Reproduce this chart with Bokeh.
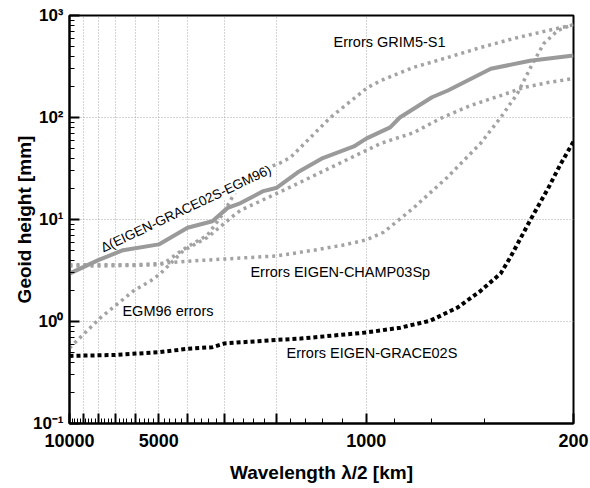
from bokeh.plotting import figure
from bokeh.models import Range1d, FixedTicker, Label
from bokeh.embed import file_html
from bokeh.resources import INLINE

# ---- data (wavelength lambda/2 in km, geoid height in mm) ----
lam_delta = [10000, 8000, 6600, 5000, 4000, 3300, 2930, 2650, 2220, 2000, 1700, 1400, 1100, 1000, 830, 770, 600, 530, 380, 280, 200]
delta = [2.95, 4.0, 5.0, 5.7, 8.3, 9.6, 13, 14.5, 19, 20.5, 29, 40, 52, 62, 80, 100, 158, 184, 300, 360, 405]

lam_grim5 = [10000, 8000, 6000, 5000, 4820, 4130, 3430, 3050, 2650, 2270, 1945, 1800, 1320, 988, 893, 692, 532, 411, 318, 244, 200]
grim5 = [3.5, 3.5, 3.55, 3.6, 3.7, 5.1, 7.0, 11.2, 23, 30, 36, 40.5, 100, 197, 230, 310, 387, 486, 595, 713, 810]

lam_champ = [10000, 8000, 6000, 5000, 4000, 3000, 2000, 1500, 1200, 1000, 873, 692, 532, 411, 352, 309, 279, 252, 226, 200]
champ = [3.6, 3.6, 3.6, 3.7, 3.9, 4.1, 4.4, 5.0, 5.6, 6.3, 7.5, 13, 26, 56, 100, 172, 310, 531, 713, 820]

lam_egm96 = [10000, 7860, 6080, 5330, 4930, 4130, 3430, 2800, 2650, 1840, 893, 692, 561, 445, 352, 294, 244, 200]
egm96 = [0.55, 1.09, 2.0, 2.5, 2.96, 4.96, 6.66, 10.9, 12.3, 20.2, 55.7, 71, 98, 131, 164, 197, 220, 241]

lam_grace = [10000, 7000, 5000, 4000, 3300, 3000, 2000, 1665, 1000, 766, 607, 492, 411, 352, 326, 279, 244, 221, 200]
grace = [0.46, 0.47, 0.50, 0.54, 0.56, 0.61, 0.66, 0.68, 0.78, 0.87, 1.02, 1.37, 2.0, 2.96, 4.3, 10, 20, 35, 58]

# ticks
x_major = [10000, 9000, 8000, 7000, 6000, 5000, 4000, 3000, 2000, 1000, 200]
x_minor = [v for v in range(400, 10000, 200) if v % 1000 != 0]
x_labels = {10000: "10000", 5000: "5000", 1000: "1000", 200: "200"}
y_major = [0.1, 1, 10, 100, 1000]
y_minor = [k * e for e in [0.1, 1, 10, 100] for k in range(2, 10)]
y_labels = ["10\u207b\u00b9", "10\u2070", "10\u00b9", "10\u00b2", "10\u00b3"]

p = figure(frame_width=504, frame_height=408, x_axis_type="log", y_axis_type="log",
           x_range=Range1d(10000, 200), y_range=Range1d(0.1, 1000),
           output_backend="svg", toolbar_location=None,
           min_border_left=69, min_border_right=17, min_border_top=15, min_border_bottom=57)

p.background_fill_color = "white"
p.border_fill_color = "white"
p.outline_line_color = "black"
p.outline_line_width = 2
p.outline_line_alpha = 1

# axes
p.xaxis.ticker = FixedTicker(ticks=x_major, minor_ticks=x_minor)
p.yaxis.ticker = FixedTicker(ticks=y_major, minor_ticks=y_minor)
p.xaxis.major_label_overrides = {t: x_labels.get(t, "") for t in x_major}
p.yaxis.major_label_overrides = dict(zip(y_major, y_labels))

for ax in (p.xaxis, p.yaxis):
    ax.axis_line_color = "black"
    ax.axis_line_width = 2
    ax.major_tick_in = 10
    ax.major_tick_out = 0
    ax.minor_tick_in = 5
    ax.minor_tick_out = 0
    ax.major_tick_line_width = 2
    ax.minor_tick_line_width = 1
    ax.major_tick_line_color = "black"
    ax.minor_tick_line_color = "black"
    ax.major_label_text_font = "Liberation Sans"
    ax.major_label_text_font_style = "bold"
    ax.major_label_text_color = "black"
    ax.axis_label_text_font = "Liberation Sans"
    ax.axis_label_text_font_style = "bold"
    ax.axis_label_text_font_size = "19px"
    ax.axis_label_text_color = "black"

p.xaxis.major_label_text_font_size = "18px"
p.yaxis.major_label_text_font_size = "17px"
p.xaxis.axis_label = "Wavelength \u03bb/2 [km]"
p.yaxis.axis_label = "Geoid height [mm]"
p.xaxis.major_label_standoff = 10
p.xaxis.axis_label_standoff = 12
p.yaxis.major_label_standoff = 6
p.yaxis.axis_label_standoff = -5

for g in (p.xgrid, p.ygrid):
    g.grid_line_color = "#a8a8a8"
    g.grid_line_width = 1
    g.grid_line_dash = "1 2"

# curves
grey_d = "#a3a3a3"
p.line(lam_egm96, egm96, line_color=grey_d, line_width=3.5, line_dash="3 4")
p.line(lam_champ, champ, line_color=grey_d, line_width=3.5, line_dash="3 4")
p.line(lam_grim5, grim5, line_color=grey_d, line_width=3.5, line_dash="3 4")
p.line(lam_grace, grace, line_color="black", line_width=4, line_dash="4 3")
p.line(lam_delta, delta, line_color="#9a9a9a", line_width=4)

# annotations
ann_font = "Liberation Sans"
def lab(x, y, t, angle=0.0, baseline="middle", size="14.5px", bg=None):
    p.add_layout(Label(x=x, y=y, text=t, angle=angle, text_font=ann_font,
                       text_font_size=size, text_color="black",
                       text_align="left", text_baseline=baseline,
                       background_fill_color=bg))

lab(1288, 544, "Errors GRIM5-S1")
lab(2455, 3.09, "Errors EIGEN-CHAMP03Sp")
lab(6630, 1.28, "EGM96 errors")
lab(1855, 0.486, "Errors EIGEN-GRACE02S")
lab(7800, 5.2, "\u0394(EIGEN-GRACE02S-EGM96)", angle=0.44, baseline="alphabetic",
    size="13.5px", bg="white")

open("out.html", "w").write(file_html(p, INLINE))
